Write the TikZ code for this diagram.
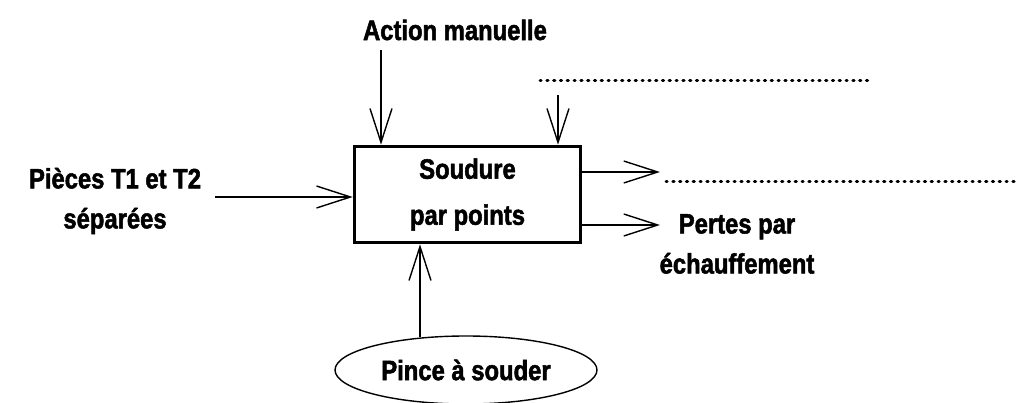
\documentclass[tikz,border=0pt]{standalone}
\usepackage{fontspec}
\setmainfont[FakeStretch=0.85,FakeBold=1.8]{Liberation Sans}
\usetikzlibrary{arrows.meta,shapes.geometric}
\begin{document}
\begin{tikzpicture}[x=1pt,y=-1pt,
  lbl/.style={font=\bfseries\fontsize{28}{40}\selectfont, align=center, inner sep=0pt},
  flow/.style={line width=1.4pt, -{Straight Barb[length=34pt,width=22pt,line width=1.4pt]}},
  dots/.style={line width=3pt, line cap=round, dash pattern=on 1.2pt off 5.6pt},
  proc/.style={draw, line width=3.5pt, minimum width=226pt, minimum height=96pt, inner sep=0pt, align=center, font=\bfseries\fontsize{28}{46}\selectfont},
  ell/.style={draw, ellipse, line width=1.4pt, minimum width=262pt, minimum height=68pt, inner sep=0pt, font=\bfseries\fontsize{28}{30}\selectfont}]
\useasboundingbox (0,0) rectangle (1017,403);
\node[proc] (box) at (467.5,194.5) {Soudure\\par points};
\node[lbl] (am) at (455,30) {Action manuelle};
\node[lbl] (pieces) at (115,201) {Pièces T1 et T2\\séparées};
\node[lbl] (pertes) at (737,244) {Pertes par\\échauffement};
\node[ell] (pince) at (466,370) {Pince à souder};
% inputs
\coordinate (amend) at (381,50);
\draw[flow] (amend) -- (amend |- box.north);
\coordinate (dotin) at (558,95);
\draw[flow] (dotin) -- (dotin |- box.north);
\coordinate (dtl) at (540,81);
\coordinate (dtr) at (870,81);
\draw[dots] (dtl) -- (dtr);
\coordinate (pin) at (215,197);
\draw[flow] (pin) -- (pin -| box.west);
% outputs
\coordinate (o1) at (660,172);
\draw[flow] (o1 -| box.east) -- (o1);
\coordinate (o2) at (660,225);
\draw[flow] (o2 -| box.east) -- (o2);
\coordinate (drl) at (666,182);
\coordinate (drr) at (1017,182);
\draw[dots] (drl) -- (drr);
% mechanism
\coordinate (mech) at (420,337);
\draw[flow] (mech) -- (mech |- box.south);
\end{tikzpicture}
\end{document}
